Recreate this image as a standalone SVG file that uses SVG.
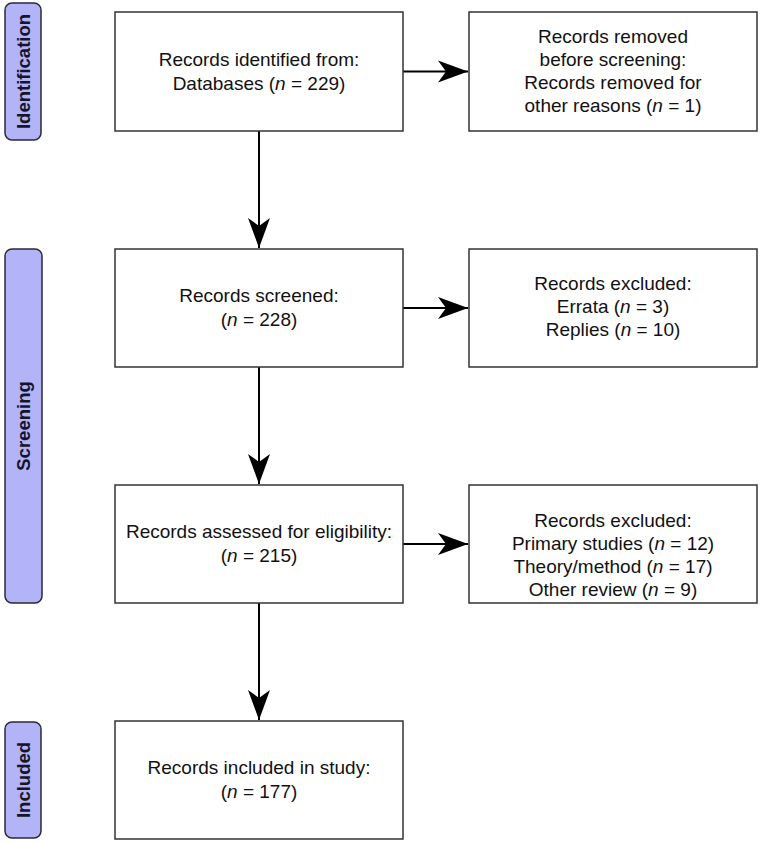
<svg xmlns="http://www.w3.org/2000/svg" width="760" height="843" viewBox="0 0 760 843">
<style>
.box{fill:#fff;stroke:#333;stroke-width:1.5}
.phase{fill:#b3b3f7;stroke:#2a2a3a;stroke-width:1.5}
.t{font-family:"Liberation Sans",Arial,sans-serif;font-size:19px;fill:#111;text-anchor:middle}
.p{font-family:"Liberation Sans",Arial,sans-serif;font-size:18.5px;font-weight:bold;fill:#15152a;text-anchor:middle}
.c{stroke:#000;stroke-width:2;fill:none}
</style>
<defs>
<marker id="ah" markerWidth="32" markerHeight="24" refX="30" refY="12" orient="auto" markerUnits="userSpaceOnUse">
<path d="M0,1 L30,12 L0,23 L8,12 Z" fill="#000"/>
</marker>
</defs>
<rect width="760" height="843" fill="#fff"/>
<g id="phase-identification">
<rect class="phase" x="5" y="3" width="36" height="137" rx="7"/>
<text class="p" transform="translate(29.5,71.5) rotate(-90)">Identification</text>
</g>
<g id="phase-screening">
<rect class="phase" x="5" y="249" width="37" height="354" rx="7"/>
<text class="p" transform="translate(30,426) rotate(-90)">Screening</text>
</g>
<g id="phase-included">
<rect class="phase" x="5" y="722" width="36" height="116" rx="7"/>
<text class="p" transform="translate(29.5,780) rotate(-90)">Included</text>
</g>
<g id="connectors">
<line class="c" x1="259" y1="131" x2="259" y2="248" marker-end="url(#ah)"/>
<line class="c" x1="259" y1="367" x2="259" y2="484" marker-end="url(#ah)"/>
<line class="c" x1="259" y1="603" x2="259" y2="720" marker-end="url(#ah)"/>
<line class="c" x1="403" y1="71.5" x2="468" y2="71.5" marker-end="url(#ah)"/>
<line class="c" x1="403" y1="308" x2="468" y2="308" marker-end="url(#ah)"/>
<line class="c" x1="403" y1="544" x2="468" y2="544" marker-end="url(#ah)"/>
</g>
<g id="identified">
<rect class="box" x="115" y="12" width="288" height="119"/>
<text class="t" x="259" y="66">Records identified from:</text>
<text class="t" x="259" y="90">Databases (<tspan font-style="italic">n</tspan> = 229)</text>
</g>
<g id="removed">
<rect class="box" x="469" y="12" width="288" height="119"/>
<text class="t" x="613" y="43">Records removed</text>
<text class="t" x="613" y="66">before screening:</text>
<text class="t" x="613" y="89">Records removed for</text>
<text class="t" x="613" y="112">other reasons (<tspan font-style="italic">n</tspan> = 1)</text>
</g>
<g id="screened">
<rect class="box" x="115" y="249" width="288" height="118"/>
<text class="t" x="259" y="302">Records screened:</text>
<text class="t" x="259" y="326">(<tspan font-style="italic">n</tspan> = 228)</text>
</g>
<g id="excluded1">
<rect class="box" x="469" y="249" width="288" height="118"/>
<text class="t" x="613" y="290">Records excluded:</text>
<text class="t" x="613" y="313">Errata (<tspan font-style="italic">n</tspan> = 3)</text>
<text class="t" x="613" y="336">Replies (<tspan font-style="italic">n</tspan> = 10)</text>
</g>
<g id="assessed">
<rect class="box" x="115" y="485" width="288" height="118"/>
<text class="t" x="259" y="538">Records assessed for eligibility:</text>
<text class="t" x="259" y="562">(<tspan font-style="italic">n</tspan> = 215)</text>
</g>
<g id="excluded2">
<rect class="box" x="469" y="485" width="288" height="118"/>
<text class="t" x="613" y="527">Records excluded:</text>
<text class="t" x="613" y="550">Primary studies (<tspan font-style="italic">n</tspan> = 12)</text>
<text class="t" x="613" y="573">Theory/method (<tspan font-style="italic">n</tspan> = 17)</text>
<text class="t" x="613" y="596">Other review (<tspan font-style="italic">n</tspan> = 9)</text>
</g>
<g id="included">
<rect class="box" x="115" y="721" width="288" height="118"/>
<text class="t" x="259" y="774">Records included in study:</text>
<text class="t" x="259" y="798">(<tspan font-style="italic">n</tspan> = 177)</text>
</g>
</svg>
